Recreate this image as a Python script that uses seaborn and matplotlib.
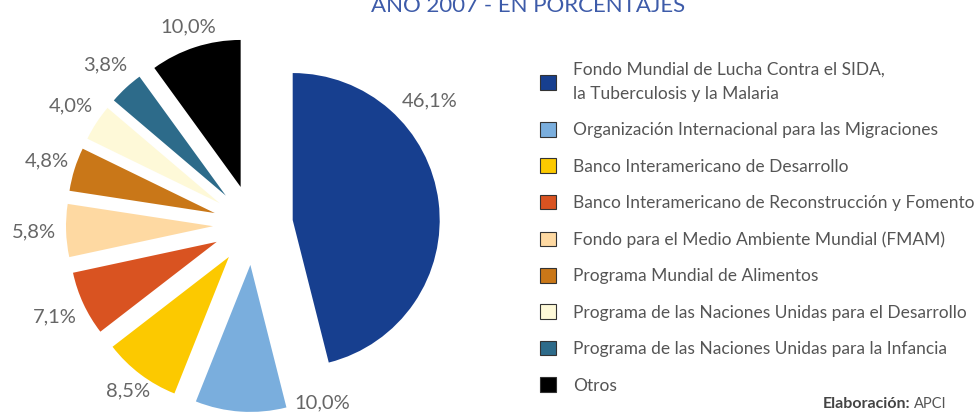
import matplotlib
matplotlib.use("Agg")
import matplotlib.pyplot as plt
import seaborn as sns
import numpy as np
from matplotlib.patches import Patch

# ---- data ----
categories = [
    "Fondo Mundial de Lucha Contra el SIDA,\nla Tuberculosis y la Malaria",
    "Organización Internacional para las Migraciones",
    "Banco Interamericano de Desarrollo",
    "Banco Interamericano de Reconstrucción y Fomento",
    "Fondo para el Medio Ambiente Mundial (FMAM)",
    "Programa Mundial de Alimentos",
    "Programa de las Naciones Unidas para el Desarrollo",
    "Programa de las Naciones Unidas para la Infancia",
    "Otros",
]
values = [46.1, 10.0, 8.5, 7.1, 5.8, 4.8, 4.0, 3.8, 10.0]
title = "AÑO 2007 - EN PORCENTAJES"
source_bold = "Elaboración:"
source_text = "APCI"

# ---- style ----
colors = ["#173f8f", "#7aaedd", "#fcc900", "#d95321", "#fed9a2",
          "#c97718", "#fef9d8", "#2d6b8a", "#000000"]
label_angle_shift = [28, 25, 0, 0, 0, 0, 0, 0, 0]
label_dist = [1.47, 1.30, 1.41, 1.49, 1.49, 1.47, 1.48, 1.48, 1.42]

sns.set_theme(style="white")
plt.rcParams["font.family"] = ["Lato", "DejaVu Sans"]

W, H = 975, 415
fig = plt.figure(figsize=(W / 100, H / 100), dpi=100)
fig.patch.set_facecolor("white")
ax = fig.add_axes([0, 0, 1, 1])

center = (253, 190)
radius = 147
explode = [40] * len(values)

wedges, _ = ax.pie(values, colors=colors, explode=explode, startangle=90,
                   counterclock=False, center=center, radius=radius,
                   wedgeprops=dict(linewidth=0))
ax.set_xlim(0, W)
ax.set_ylim(0, H)
ax.set_aspect("equal")
ax.axis("off")

for w, v, sh, d in zip(wedges, values, label_angle_shift, label_dist):
    mid = np.deg2rad((w.theta1 + w.theta2) / 2 + sh)
    x = center[0] + d * radius * np.cos(mid)
    y = center[1] + d * radius * np.sin(mid)
    ax.text(x, y, f"{v:.1f}%".replace(".", ","), ha="center", va="center",
            fontsize=14.5, color="#666666")

ax.text(528, 403, title, ha="center", va="baseline", fontsize=16,
        color="#3d5ba9")

t = ax.text(947, 7, source_text, ha="right", va="baseline",
            fontsize=10.5, color="#555555")
ax.annotate(source_bold, xy=(0, 0), xycoords=t, xytext=(-3, 0),
            textcoords="offset points", ha="right", va="bottom",
            fontsize=11.5, fontweight="bold", color="#444444")

fs = 12.5
handles = [Patch(facecolor=c, edgecolor="#333333", linewidth=0.8) for c in colors]
leg = fig.legend(handles, categories, loc="upper left",
                 bbox_to_anchor=(540 / W, 1 - 62 / H), frameon=False,
                 fontsize=fs, labelcolor="#555555", handlelength=0.92,
                 handleheight=0.92, handletextpad=1.0, labelspacing=1.16,
                 borderpad=0, borderaxespad=0)
leg.get_texts()[0].set_linespacing(1.6)

fig.savefig("out.png", dpi=100, facecolor="white")
